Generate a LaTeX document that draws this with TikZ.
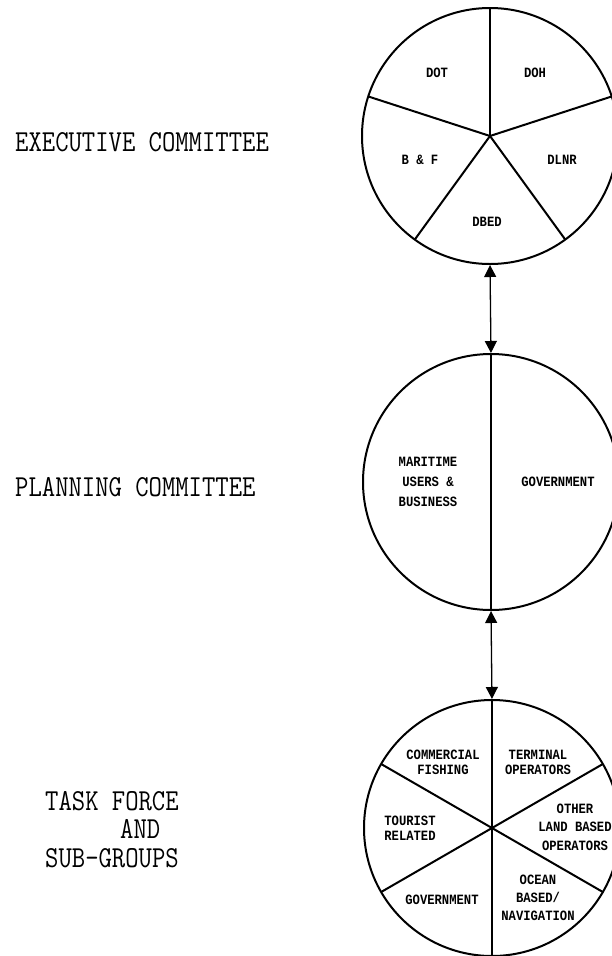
\documentclass[tikz,border=0pt]{standalone}
\usepackage{fontspec}
\usetikzlibrary{arrows.meta}
\newfontfamily\inlab{Liberation Mono}[FakeStretch=0.86]
\newfontfamily\biglab{Latin Modern Mono}[FakeStretch=0.85]
\begin{document}
\begin{tikzpicture}[x=1pt,y=-1pt,
  disc/.style={circle, draw, line width=2pt, minimum size=256pt, inner sep=0pt, outer sep=0pt},
  divider/.style={line width=2pt},
  link/.style={line width=1.3pt, {Triangle[length=12pt,width=12pt]}-{Triangle[length=12pt,width=12pt]}, shorten <=1pt, shorten >=1pt},
  lab/.style={font={\inlab\bfseries\fontsize{14.2}{#1}\selectfont}, align=center, inner sep=0pt},
  lab/.default=15,
  title/.style={font={\biglab\fontsize{30.5}{28.5}\selectfont}, anchor=west, inner sep=0pt, align=left}]
\useasboundingbox (0,0) rectangle (612,956);
\clip (0,0) rectangle (612,956);

% circles
\node[disc] (exec) at (490,136) {};
\node[disc] (plan) at (491,482) {};
\node[disc] (task) at (492,828) {};

% executive pentagon divisions
\foreach \a in {90,18,-54,-126,162}
  \draw[divider] (exec.center) -- (exec.\a);
% planning halves
\draw[divider] (plan.90) -- (plan.-90);
% task force sixths
\draw[divider] (task.90) -- (task.-90);
\draw[divider] (task.30) -- (task.-150);
\draw[divider] (task.150) -- (task.-30);

% connectors
\draw[link] (exec.south) -- (plan.north);
\draw[link] (plan.south) -- (task.north);

% executive labels
\node[lab] (dot) at (437,73) {DOT};
\node[lab] (doh) at (535,73) {DOH};
\node[lab] (bf) at (420,160) {B \& F};
\node[lab] (dlnr) at (562,160) {DLNR};
\node[lab] (dbed) at (487,222) {DBED};

% planning labels
\node[lab=20] (mar) at (428,482) {MARITIME\\USERS \&\\BUSINESS};
\node[lab] (gov1) at (558,482) {GOVERNMENT};

% task force labels
\node[lab] (com) at (443,762) {COMMERCIAL\\FISHING};
\node[lab] (ter) at (538,762) {TERMINAL\\OPERATORS};
\node[lab=15.5] (tou) at (410,828) {TOURIST\\RELATED};
\node[lab=18.5] (oth) at (575,827) {OTHER\\LAND BASED\\OPERATORS};
\node[lab] (gov2) at (442,900) {GOVERNMENT};
\node[lab=18] (oce) at (538,898) {OCEAN\\BASED/\\NAVIGATION};

% level titles
\node[title] (t1) at (15,142) {EXECUTIVE COMMITTEE};
\node[title] (t2) at (15,487) {PLANNING COMMITTEE};
\node[title] (t3) at (45,829.5) {TASK FORCE\\\hspace*{75pt}AND\\SUB-GROUPS};
\end{tikzpicture}
\end{document}
